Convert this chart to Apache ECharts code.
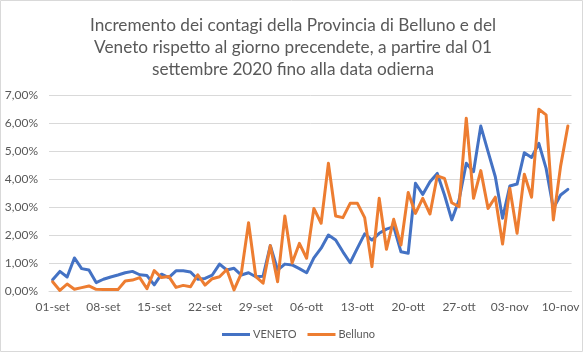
<!DOCTYPE html>
<html>
<head>
<meta charset="utf-8">
<script src="https://cdn.jsdelivr.net/npm/echarts@6/dist/echarts.min.js"></script>
<style>
    html, body { margin: 0; padding: 0; background: #fff; }
    #charts { width: 586px; height: 353px; }
</style>
</head>
<body>
<div id="charts"></div>
<script>
// giorni dal 01-set al 11-nov
var monthNames = ['set', 'ott', 'nov'];
var monthDays = [30, 31, 11];

// incremento percentuale giornaliero (in %)
var venetoData = [
    0.40, 0.70, 0.50, 1.18, 0.80, 0.75, 0.30, 0.42, 0.50, 0.57,
    0.65, 0.70, 0.58, 0.55, 0.22, 0.60, 0.48, 0.72, 0.72, 0.68,
    0.42, 0.45, 0.57, 0.96, 0.75, 0.81, 0.57, 0.65, 0.51, 0.53,
    1.62, 0.75, 0.96, 0.93, 0.80, 0.65, 1.18, 1.53, 2.00, 1.82,
    1.40, 1.01, 1.53, 2.04, 1.82, 2.06, 2.21, 2.30, 1.40, 1.35,
    3.85, 3.45, 3.90, 4.20, 3.43, 2.54, 3.25, 4.56, 4.26, 5.89,
    4.98, 4.08, 2.60, 3.75, 3.82, 4.94, 4.77, 5.27, 4.38, 2.95,
    3.43, 3.63
];
var bellunoData = [
    0.33, 0.02, 0.25, 0.06, 0.12, 0.18, 0.06, 0.05, 0.05, 0.05,
    0.36, 0.39, 0.48, 0.08, 0.73, 0.48, 0.52, 0.13, 0.20, 0.15,
    0.58, 0.21, 0.44, 0.51, 0.77, 0.04, 0.63, 2.44, 0.51, 0.28,
    1.62, 0.33, 2.68, 1.00, 1.70, 1.17, 2.95, 2.42, 4.56, 2.68,
    2.62, 3.13, 3.13, 2.62, 0.87, 3.31, 1.49, 2.56, 1.64, 3.52,
    2.77, 3.31, 2.75, 4.11, 4.02, 3.15, 3.01, 6.17, 3.31, 4.30,
    2.95, 3.35, 1.68, 3.67, 2.06, 4.17, 3.35, 6.49, 6.29, 2.54,
    4.46, 5.89
];

var days = [];
for (var m = 0; m < monthNames.length; m++) {
    for (var d = 1; d <= monthDays[m]; d++) {
        days.push((d < 10 ? '0' + d : '' + d) + '-' + monthNames[m]);
    }
}

function toRatio(arr) {
    return arr.map(function(v) { return v / 100; });
}

var myChart = echarts.init(document.getElementById('charts'));
var option = {
    animation: false,
    textStyle: { fontFamily: 'Lato' },
    title: {
        text: 'Incremento dei contagi della Provincia di Belluno e del\nVeneto rispetto al giorno precendete, a partire dal 01\nsettembre 2020 fino alla data odierna',
        left: 'center',
        top: 9,
        textStyle: {
            fontFamily: 'Lato',
            fontSize: 17.2,
            fontWeight: 'normal',
            color: '#595959',
            lineHeight: 22,
            align: 'center'
        }
    },
    legend: {
        bottom: 8,
        left: 217,
        icon: 'rect',
        itemWidth: 28,
        itemHeight: 3,
        itemGap: 11,
        textStyle: { color: '#595959', fontSize: 11, fontFamily: 'Lato', padding: [0, 0, 0, -2] },
        data: ['VENETO', 'Belluno']
    },
    grid: {
        left: 49,
        right: 14.5,
        top: 95,
        bottom: 62
    },
    xAxis: {
        type: 'category',
        data: days,
        boundaryGap: true,
        axisLine: { lineStyle: { color: '#d9d9d9', width: 1 } },
        axisTick: { interval: 6, length: 5, lineStyle: { color: '#d9d9d9' } },
        axisLabel: { interval: 6, color: '#595959', fontSize: 12, margin: 10 }
    },
    yAxis: {
        type: 'value',
        min: 0,
        max: 0.07,
        interval: 0.01,
        axisLine: { show: false },
        axisTick: { show: false },
        splitLine: { lineStyle: { color: '#d9d9d9', width: 1 } },
        axisLabel: {
            color: '#595959',
            fontSize: 12,
            margin: 11,
            formatter: function(v) {
                return (v * 100).toFixed(2).replace('.', ',') + '%';
            }
        }
    },
    series: [{
        name: 'VENETO',
        type: 'line',
        symbol: 'none',
        data: toRatio(venetoData),
        itemStyle: { color: '#4472C4' },
        lineStyle: { width: 3, color: '#4472C4', join: 'round', cap: 'round' }
    }, {
        name: 'Belluno',
        type: 'line',
        symbol: 'none',
        data: toRatio(bellunoData),
        itemStyle: { color: '#ED7D31' },
        lineStyle: { width: 3, color: '#ED7D31', join: 'round', cap: 'round' }
    }],
    graphic: [{
        type: 'rect',
        shape: { x: 0.5, y: 0.5, width: 582, height: 351 },
        style: { fill: 'none', stroke: '#d9d9d9', lineWidth: 1 },
        silent: true
    }]
};
myChart.setOption(option);
</script>
</body>
</html>
